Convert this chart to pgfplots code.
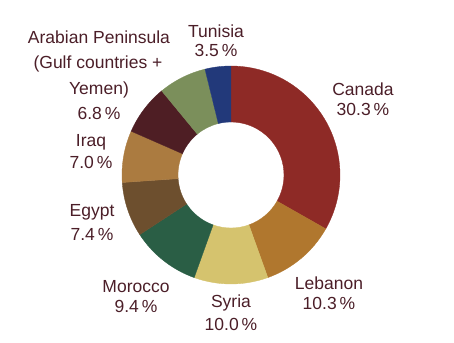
\documentclass[border=0pt]{standalone}
\usepackage{pgfplots}
\pgfplotsset{compat=1.18}
\usepackage{fontspec}
\setmainfont{Liberation Sans}
\definecolor{cCanada}{HTML}{8E2A26}
\definecolor{cLebanon}{HTML}{B0772E}
\definecolor{cSyria}{HTML}{D5C36E}
\definecolor{cMorocco}{HTML}{2A5E45}
\definecolor{cEgypt}{HTML}{6D4F2E}
\definecolor{cIraq}{HTML}{AB7B40}
\definecolor{cArabian}{HTML}{4E1E24}
\definecolor{cOther}{HTML}{7B8F5B}
\definecolor{cTunisia}{HTML}{22397A}
\definecolor{txt}{RGB}{75,30,40}
% slice values, clockwise from the top
\def\slices{30.3/cCanada,10.3/cLebanon,10.0/cSyria,9.4/cMorocco,7.4/cEgypt,7.0/cIraq,6.8/cArabian,6.5/cOther,3.5/cTunisia}
\begin{document}
\begin{tikzpicture}
% compute wedge angles from the values
\pgfmathsetmacro\total{30.3+10.3+10.0+9.4+7.4+7.0+6.8+6.5+3.5}
\xdef\cum{0}
\xdef\wedges{}
\foreach \v/\c in \slices {
  \pgfmathsetmacro\a{90-\cum/\total*360}
  \pgfmathsetmacro\b{\a-\v/\total*360}
  \pgfmathsetmacro\newcum{\cum+\v}
  \xdef\cum{\newcum}
  \ifx\wedges\empty \xdef\wedges{\a/\b/\c}\else \xdef\wedges{\wedges,\a/\b/\c}\fi
}
\begin{axis}[x=0.6pt,y=0.6pt,xmin=0,xmax=454,ymin=-342,ymax=0,
  hide axis, clip=false]
\pgfplotsextra{
  \begin{scope}[shift={(axis cs:231,-175)}]
  \foreach \a/\b/\c in \wedges {
    \fill[\c,draw=\c,line width=0.2pt] (\a:65.4pt) arc[start angle=\a,end angle=\b,radius=65.4pt]
       -- (\b:31.8pt) arc[start angle=\b,end angle=\a,radius=31.8pt] -- cycle;
  }
  \end{scope}
}
\tikzset{lab/.style={anchor=base,text=txt,font=\fontsize{10.5}{12}\selectfont,inner sep=0pt}}
\node[lab] at (axis cs:216,-37) {Tunisia};
\node[lab] at (axis cs:216,-56) {3.5\,\%};
\node[lab] at (axis cs:363,-95) {Canada};
\node[lab] at (axis cs:363,-115) {30.3\,\%};
\node[lab] at (axis cs:329,-289) {Lebanon};
\node[lab] at (axis cs:329,-309) {10.3\,\%};
\node[lab] at (axis cs:231,-307) {Syria};
\node[lab] at (axis cs:231,-330) {10.0\,\%};
\node[lab] at (axis cs:136,-292) {Morocco};
\node[lab] at (axis cs:136,-312) {9.4\,\%};
\node[lab] at (axis cs:92,-216) {Egypt};
\node[lab] at (axis cs:92,-240) {7.4\,\%};
\node[lab] at (axis cs:91,-146) {Iraq};
\node[lab] at (axis cs:91,-168) {7.0\,\%};
\node[lab] at (axis cs:99,-43) {Arabian Peninsula};
\node[lab] at (axis cs:98,-68) {(Gulf countries +};
\node[lab] at (axis cs:99,-94) {Yemen)};
\node[lab] at (axis cs:99,-119) {6.8\,\%};
\end{axis}
\path (current axis.south west) rectangle (current axis.north east);
\end{tikzpicture}
\end{document}
